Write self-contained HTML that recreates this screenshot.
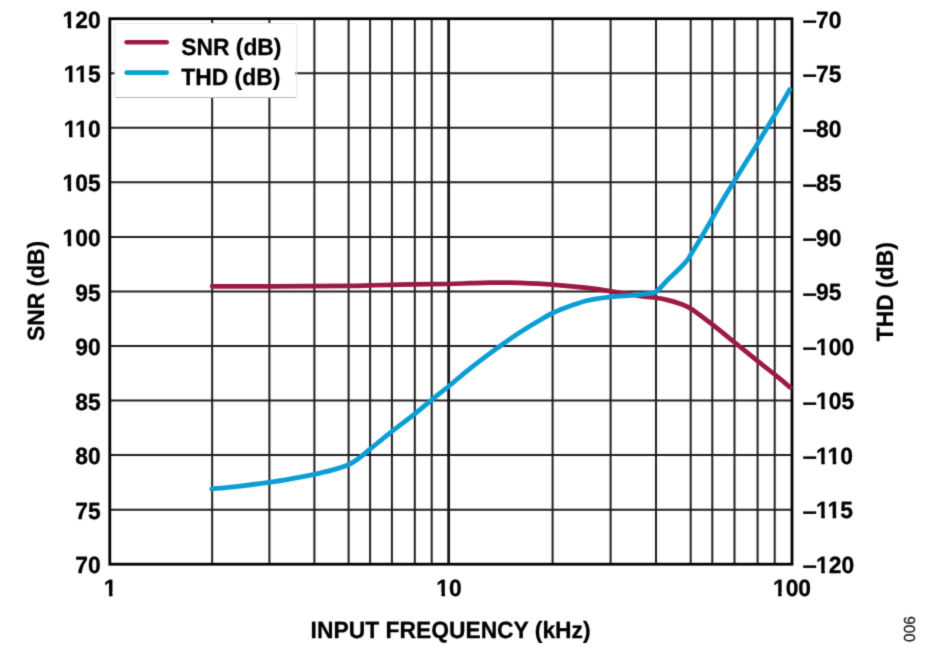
<!DOCTYPE html>
<html lang="en"><head><meta charset="utf-8"><title>SNR and THD vs Input Frequency</title>
<style>html,body{margin:0;padding:0;background:#fff}svg{display:block}text{font-family:"Liberation Sans",Arial,Helvetica,sans-serif;font-weight:bold;font-size:23.5px;text-rendering:geometricPrecision;fill:#000;stroke:#000;stroke-width:0.3px;stroke-linejoin:round}.s{font-weight:normal;font-size:16px;fill:#1a1a1a;stroke:#1a1a1a;stroke-width:0.25px}</style></head><body>
<svg width="931" height="654" viewBox="0 0 931 654">
<defs><filter id="soft" x="0" y="0" width="931" height="654" filterUnits="userSpaceOnUse" color-interpolation-filters="sRGB"><feConvolveMatrix order="3" kernelMatrix="0.0196 0.1008 0.0196 0.1008 0.5184 0.1008 0.0196 0.1008 0.0196" divisor="1" edgeMode="duplicate" preserveAlpha="true"/></filter></defs>
<g filter="url(#soft)">
<rect x="-5" y="-5" width="941" height="664" fill="#fff"/>
<path d="M212.15 18.70V564.20M269.40 18.70V564.20M314.40 18.70V564.20M348.60 18.70V564.20M370.10 18.70V564.20M391.90 18.70V564.20M414.80 18.70V564.20M431.70 18.70V564.20M552.60 18.70V564.20M610.60 18.70V564.20M656.00 18.70V564.20M690.70 18.70V564.20M712.30 18.70V564.20M734.50 18.70V564.20M757.60 18.70V564.20M774.70 18.70V564.20M109.80 73.25H792.00M109.80 127.80H792.00M109.80 182.35H792.00M109.80 236.90H792.00M109.80 291.45H792.00M109.80 346.00H792.00M109.80 400.55H792.00M109.80 455.10H792.00M109.80 509.65H792.00" stroke="#231f20" stroke-width="2.00" fill="none"/>
<path d="M448.65 18.70V564.20" stroke="#1a1718" stroke-width="2.8" fill="none"/>
<rect x="109.80" y="18.70" width="682.20" height="545.50" fill="none" stroke="#000" stroke-width="2.80"/>
<path d="M212.10 286.30 C221.65 286.30 252.35 286.32 269.40 286.30 C286.45 286.28 301.20 286.27 314.40 286.20 C327.60 286.13 339.32 286.03 348.60 285.90 C357.88 285.77 362.88 285.58 370.10 285.40 C377.32 285.22 384.45 284.97 391.90 284.80 C399.35 284.63 405.33 284.52 414.80 284.38 C424.27 284.25 439.50 284.20 448.70 284.00 C457.90 283.80 463.12 283.42 470.00 283.20 C476.88 282.98 484.17 282.80 490.00 282.70 C495.83 282.60 500.00 282.58 505.00 282.60 C510.00 282.62 512.07 282.47 520.00 282.80 C527.93 283.13 541.72 283.79 552.60 284.60 C563.48 285.41 575.57 286.57 585.30 287.68 C595.03 288.80 603.27 290.17 611.00 291.30 C618.73 292.43 626.03 293.58 631.70 294.48 C637.37 295.37 641.00 296.12 645.00 296.68 C649.00 297.23 651.90 297.23 655.70 297.80 C659.50 298.37 663.75 299.12 667.80 300.10 C671.85 301.08 676.13 302.26 680.00 303.70 C683.87 305.14 685.58 305.26 691.00 308.74 C696.42 312.23 705.22 318.98 712.50 324.61 C719.78 330.23 727.15 336.41 734.70 342.49 C742.25 348.58 751.10 355.74 757.80 361.11 C764.50 366.48 769.52 370.34 774.90 374.70 C780.28 379.07 787.57 385.20 790.10 387.30" stroke="#9c1a42" stroke-width="4.7" fill="none" stroke-linecap="round" stroke-linejoin="round"/>
<path d="M211.80 488.90 C216.50 488.42 230.43 487.10 240.00 486.01 C249.57 484.91 260.53 483.55 269.20 482.32 C277.87 481.09 284.48 479.94 292.00 478.61 C299.52 477.27 307.63 475.71 314.30 474.30 C320.97 472.90 326.32 471.77 332.00 470.18 C337.68 468.59 344.15 466.59 348.40 464.76 C352.65 462.93 353.90 461.79 357.50 459.20 C361.10 456.61 364.25 453.84 370.00 449.21 C375.75 444.57 384.53 437.28 392.00 431.40 C399.47 425.52 408.17 419.17 414.80 413.90 C421.43 408.63 426.15 404.41 431.80 399.80 C437.45 395.19 442.75 391.14 448.70 386.26 C454.65 381.38 461.30 375.51 467.50 370.51 C473.70 365.52 480.40 360.43 485.90 356.30 C491.40 352.16 495.00 349.57 500.50 345.71 C506.00 341.84 512.78 337.09 518.90 333.10 C525.02 329.11 531.57 325.13 537.20 321.78 C542.83 318.44 546.98 315.74 552.70 313.03 C558.42 310.31 565.50 307.65 571.50 305.51 C577.50 303.38 582.12 301.66 588.70 300.24 C595.28 298.81 603.83 297.79 611.00 296.96 C618.17 296.14 625.53 295.86 631.70 295.29 C637.87 294.72 643.95 294.15 648.00 293.55 C652.05 292.95 652.62 294.08 656.00 291.70 C659.38 289.32 664.40 283.09 668.30 279.25 C672.20 275.42 676.18 271.95 679.40 268.70 C682.62 265.44 685.72 262.03 687.60 259.72 C689.48 257.42 688.40 258.63 690.70 254.87 C693.00 251.11 697.70 243.42 701.40 237.15 C705.10 230.88 709.23 223.60 712.90 217.24 C716.57 210.87 719.75 205.13 723.40 198.96 C727.05 192.79 731.05 186.32 734.80 180.21 C738.55 174.10 742.00 168.56 745.90 162.30 C749.80 156.04 754.83 148.13 758.20 142.65 C761.57 137.17 763.27 134.16 766.10 129.42 C768.93 124.68 772.45 118.79 775.20 114.21 C777.95 109.62 780.20 105.98 782.60 101.90 C785.00 97.83 788.43 91.78 789.60 89.75" stroke="#0a9ed4" stroke-width="4.8" fill="none" stroke-linecap="round" stroke-linejoin="round"/>
<rect x="114.9" y="23.5" width="180.4" height="74.0" fill="#fff"/>
<path d="M114.9 97.3V24.5Q114.9 23.5 115.9 23.5H295.7Q296.7 23.5 296.7 24.5V97.3" stroke="#e6e6e6" stroke-width="1" fill="none"/>
<path d="M115.4 97.5H296.2" stroke="#b4b4b4" stroke-width="1" fill="none"/>
<path d="M126.6 42.3H166.7" stroke="#9c1a42" stroke-width="4.6" stroke-linecap="round"/>
<path d="M126.6 72.6H166.7" stroke="#0a9ed4" stroke-width="4.6" stroke-linecap="round"/>
<text transform="translate(181.20 54.60) scale(0.9720 1)">SNR (dB)</text>
<text transform="translate(181.30 84.90) scale(0.9720 1)">THD (dB)</text>
<text transform="translate(100.70 27.80) scale(0.9720 1)" text-anchor="end">120</text>
<text transform="translate(100.70 82.35) scale(0.9720 1)" text-anchor="end">115</text>
<text transform="translate(100.70 136.90) scale(0.9720 1)" text-anchor="end">110</text>
<text transform="translate(100.70 191.45) scale(0.9720 1)" text-anchor="end">105</text>
<text transform="translate(100.70 246.00) scale(0.9720 1)" text-anchor="end">100</text>
<text transform="translate(100.70 300.55) scale(0.9720 1)" text-anchor="end">95</text>
<text transform="translate(100.70 355.10) scale(0.9720 1)" text-anchor="end">90</text>
<text transform="translate(100.70 409.65) scale(0.9720 1)" text-anchor="end">85</text>
<text transform="translate(100.70 464.20) scale(0.9720 1)" text-anchor="end">80</text>
<text transform="translate(100.70 518.75) scale(0.9720 1)" text-anchor="end">75</text>
<text transform="translate(100.70 573.30) scale(0.9720 1)" text-anchor="end">70</text>
<text transform="translate(802.40 27.90) scale(1.0960 1)">–</text>
<text transform="translate(816.10 27.50) scale(0.9720 1)">70</text>
<text transform="translate(802.40 82.45) scale(1.0960 1)">–</text>
<text transform="translate(816.10 82.05) scale(0.9720 1)">75</text>
<text transform="translate(802.40 137.00) scale(1.0960 1)">–</text>
<text transform="translate(816.10 136.60) scale(0.9720 1)">80</text>
<text transform="translate(802.40 191.55) scale(1.0960 1)">–</text>
<text transform="translate(816.10 191.15) scale(0.9720 1)">85</text>
<text transform="translate(802.40 246.10) scale(1.0960 1)">–</text>
<text transform="translate(816.10 245.70) scale(0.9720 1)">90</text>
<text transform="translate(802.40 300.65) scale(1.0960 1)">–</text>
<text transform="translate(816.10 300.25) scale(0.9720 1)">95</text>
<text transform="translate(802.40 355.20) scale(1.0960 1)">–</text>
<text transform="translate(816.10 354.80) scale(0.9720 1)">100</text>
<text transform="translate(802.40 409.75) scale(1.0960 1)">–</text>
<text transform="translate(816.10 409.35) scale(0.9720 1)">105</text>
<text transform="translate(802.40 464.30) scale(1.0960 1)">–</text>
<text transform="translate(816.10 463.90) scale(0.9720 1)">110</text>
<text transform="translate(802.40 518.85) scale(1.0960 1)">–</text>
<text transform="translate(816.10 518.45) scale(0.9720 1)">115</text>
<text transform="translate(802.40 573.40) scale(1.0960 1)">–</text>
<text transform="translate(816.10 573.00) scale(0.9720 1)">120</text>
<text transform="translate(110.20 595.80) scale(0.9720 1)" text-anchor="middle">1</text>
<text transform="translate(449.00 595.80) scale(0.9720 1)" text-anchor="middle">10</text>
<text transform="translate(792.00 595.80) scale(0.9720 1)" text-anchor="middle">100</text>
<text transform="translate(450.60 637.90) scale(0.9720 1)" text-anchor="middle">INPUT FREQUENCY (kHz)</text>
<text transform="translate(44.00 290.90) rotate(-90) scale(0.9720 1)" text-anchor="middle">SNR (dB)</text>
<text transform="translate(893.40 291.70) rotate(-90) scale(0.9720 1)" text-anchor="middle">THD (dB)</text>
<text transform="translate(915.10 629.00) rotate(-90) scale(0.9650 1)" text-anchor="middle" class="s">006</text>
<path d="M63.03 24.10H67.72V29.80H63.03ZM71.25 24.10H75.66V29.80H71.25ZM64.29 78.65H68.98V84.35H64.29ZM72.51 78.65H76.92V84.35H72.51ZM75.73 78.65H80.42V84.35H75.73ZM83.96 78.65H88.36V84.35H83.96ZM64.29 133.20H68.98V138.90H64.29ZM72.51 133.20H76.92V138.90H72.51ZM75.73 133.20H80.42V138.90H75.73ZM83.96 133.20H88.36V138.90H83.96ZM63.03 187.75H67.72V193.45H63.03ZM71.25 187.75H75.66V193.45H71.25ZM63.03 242.30H67.72V248.00H63.03ZM71.25 242.30H75.66V248.00H71.25ZM816.54 351.10H821.23V356.80H816.54ZM824.77 351.10H829.17V356.80H824.77ZM816.54 405.65H821.23V411.35H816.54ZM824.77 405.65H829.17V411.35H824.77ZM816.54 460.20H821.23V465.90H816.54ZM824.77 460.20H829.17V465.90H824.77ZM827.98 460.20H832.67V465.90H827.98ZM836.21 460.20H840.61V465.90H836.21ZM816.54 514.75H821.23V520.45H816.54ZM824.77 514.75H829.17V520.45H824.77ZM827.98 514.75H832.67V520.45H827.98ZM836.21 514.75H840.61V520.45H836.21ZM816.54 569.30H821.23V575.00H816.54ZM824.77 569.30H829.17V575.00H824.77ZM104.29 592.10H108.98V597.80H104.29ZM112.51 592.10H116.92V597.80H112.51ZM436.74 592.10H441.43V597.80H436.74ZM444.96 592.10H449.36V597.80H444.96ZM773.38 592.10H778.08V597.80H773.38ZM781.61 592.10H786.01V597.80H781.61Z" fill="#fff"/>
</g></svg></body></html>
